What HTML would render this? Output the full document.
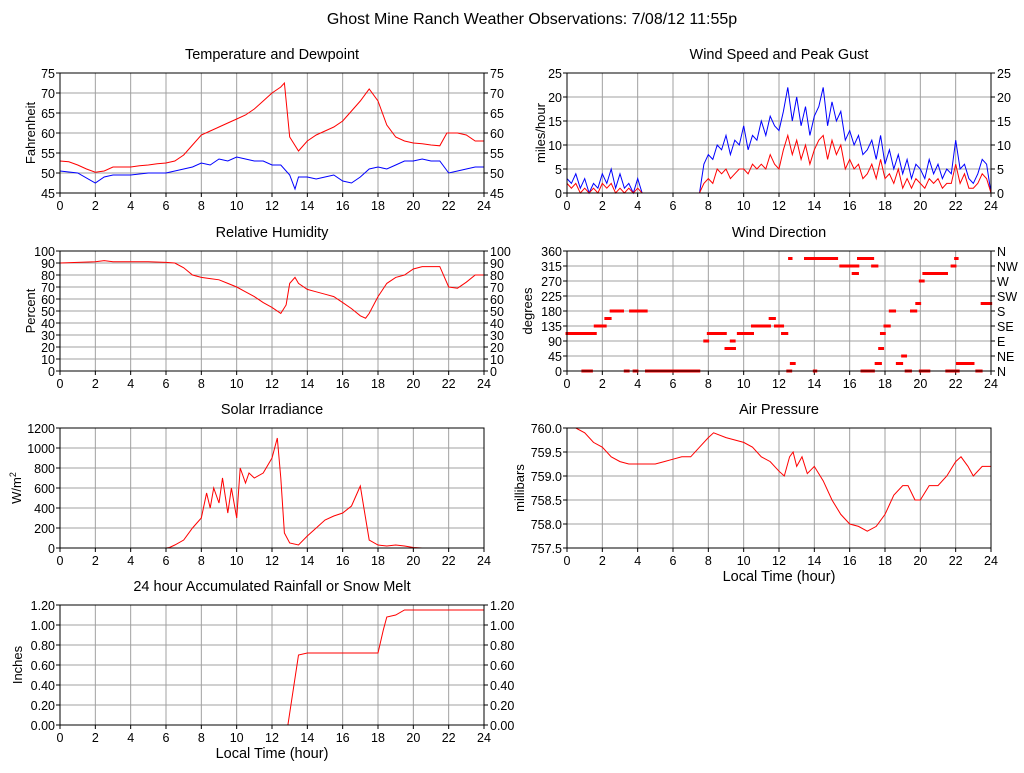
<!DOCTYPE html>
<html><head><meta charset="utf-8"><style>
body{margin:0;background:#fff;width:1024px;height:768px;overflow:hidden}
svg{font-family:"Liberation Sans",sans-serif}
</style></head><body>
<svg id="c" width="1024" height="768">
<text x="532" y="24" font-size="16" text-anchor="middle">Ghost Mine Ranch Weather Observations: 7/08/12 11:55p</text>
</svg>
<script>
const tempT=[0,0.5,1,1.5,2,2.5,3,3.5,4,4.5,5,5.5,6,6.5,7,7.5,8,8.5,9,9.5,10,10.5,11,11.5,12,12.5,12.7,13,13.5,14,14.5,15,15.5,16,16.5,17,17.5,18,18.5,19,19.5,20,20.5,21,21.5,21.9,22.5,23,23.5,24];
const tempV=[53,52.8,52,51,50.2,50.5,51.5,51.5,51.5,51.8,52,52.3,52.5,53,54.5,57,59.5,60.5,61.5,62.5,63.5,64.5,66,68,70,71.5,72.5,59,55.5,58,59.5,60.5,61.5,63,65.5,68,71,68,62,59,58,57.5,57.3,57,56.8,60,60,59.5,58,58];
const dewT=[0,1,2,2.5,3,4,5,6,7,7.5,8,8.5,9,9.5,10,10.5,11,11.5,12,12.5,13,13.3,13.5,14,14.5,15,15.5,16,16.5,17,17.5,18,18.5,19,19.5,20,20.5,21,21.5,22,22.5,23,23.5,24];
const dewV=[50.5,50,47.5,49,49.5,49.5,50,50,51,51.5,52.5,52,53.5,53,54,53.5,53,53,52,52,49.5,46,49,49,48.5,49,49.5,48,47.5,49,51,51.5,51,52,53,53,53.5,53,53,50,50.5,51,51.5,51.5];
const rhT=[0,2,2.5,3,4,5,6,6.5,7,7.5,8,8.5,9,9.5,10,10.5,11,11.5,12,12.5,12.8,13,13.3,13.5,14,14.5,15,15.5,16,16.5,17,17.3,17.5,18,18.5,19,19.5,20,20.5,21,21.5,22,22.5,23,23.5,24];
const rhV=[90,91,92,91,91,91,90.5,90,86,80,78,77,76,73,70,66,62,57,53,48,55,73,78,73,68,66,64,62,57,52,46,44,48,62,73,78,80,85,87,87,87,70,69,74,80,80];
const solT=[0,6,6.2,6.5,7,7.5,8,8.3,8.5,8.7,9,9.2,9.5,9.7,10,10.2,10.5,10.7,11,11.5,12,12.3,12.5,12.7,13,13.5,14,14.5,15,15.5,16,16.5,17,17.2,17.5,18,18.5,19,19.5,20,20.5,24];
const solV=[0,0,5,30,80,200,300,550,400,600,450,700,350,600,300,800,650,750,700,750,900,1100,700,150,50,30,120,200,280,320,350,420,620,400,80,30,20,30,20,5,0,0];
const presT=[0,0.5,1,1.5,2,2.5,3,3.5,4,5,5.5,6,6.5,7,7.5,8,8.3,9,10,10.5,11,11.5,12,12.3,12.6,12.8,13,13.3,13.6,14,14.5,15,15.5,16,16.5,17,17.5,18,18.5,19,19.3,19.7,20,20.5,21,21.5,22,22.3,22.7,23,23.5,24];
const presV=[760,760,759.9,759.7,759.6,759.4,759.3,759.25,759.25,759.25,759.3,759.35,759.4,759.4,759.6,759.8,759.9,759.8,759.7,759.6,759.4,759.3,759.1,759,759.4,759.5,759.2,759.4,759.05,759.2,758.9,758.5,758.2,758,757.95,757.85,757.95,758.2,758.6,758.8,758.8,758.5,758.5,758.8,758.8,759,759.3,759.4,759.2,759,759.2,759.2];
const rainT=[0,12.9,13.5,14,18,18.3,18.5,19,19.5,24];
const rainV=[0,0,0.7,0.72,0.72,0.95,1.08,1.1,1.15,1.15];
const gustV=[3,2,4,1,3,0,2,1,4,2,5,1,4,1,2,0,3,0,0,0,0,0,0,0,0,0,0,0,0,0,0,6,8,7,10,9,12,8,11,10,14,9,12,11,15,12,16,14,13,17,22,15,20,14,18,12,16,18,22,14,19,15,17,11,13,10,12,8,9,11,7,12,6,9,5,8,4,7,3,6,5,3,7,4,6,3,5,4,11,5,6,3,2,4,7,6,0];
const speedV=[2,1,2,0,1,0,1,0,2,1,2,0,1,0,1,0,1,0,0,0,0,0,0,0,0,0,0,0,0,0,0,2,3,2,5,4,5,3,4,5,5,4,6,5,6,5,8,6,5,9,12,8,11,7,10,6,9,11,12,7,11,8,10,5,7,5,6,3,4,6,3,7,3,4,2,5,1,3,1,3,2,1,3,2,3,1,2,2,6,2,4,1,1,2,4,3,0];
const dirSegStart=[0,0.9,1.6,2.2,2.5,3.3,3.6,3.8,4.5,7.8,8.0,9,9.3,9.7,10.5,11.5,11.8,12.2,12.5,12.7,12.6,13.5,14.7,14,15.5,16.2,16.5,17.3,16.7,17.5,17.7,17.8,18,18.3,18.7,19,19.2,19.5,19.8,20,20.2,20.0,21.5,21.8,22,21.9,22.1,23.2,23.5];
const dirSegEnd=[1.6,1.4,2.2,2.5,3.2,3.5,4.5,4,7.5,8.0,9,9.5,9.5,10.5,11.5,11.8,12.2,12.5,12.7,12.9,12.7,14.7,15.3,14.1,16.5,16.5,17.3,17.6,17.4,17.8,17.9,18.0,18.3,18.6,19.0,19.2,19.5,19.8,20,20.2,21.5,20.5,21.8,22,22.1,22.2,23,23.5,24];
const dirSegDeg=[112.5,0,135,157.5,180,0,180,0,0,90,112.5,67.5,90,112.5,135,157.5,135,112.5,0,22.5,337.5,337.5,337.5,0,315,292.5,337.5,315,0,22.5,67.5,112.5,135,180,22.5,45,0,180,202.5,270,292.5,0,0,315,337.5,0,22.5,0,202.5];
const hourTicks=[0,2,4,6,8,10,12,14,16,18,20,22,24];
const tempTicks=[45,50,55,60,65,70,75];
const windTicks=[0,5,10,15,20,25];
const rhTicks=[0,10,20,30,40,50,60,70,80,90,100];
const dirTicks=[0,45,90,135,180,225,270,315,360];
const dirNames=["N","NE","E","SE","S","SW","W","NW","N"];
const solTicks=[0,200,400,600,800,1000,1200];
const presTicks=[757.5,758,758.5,759,759.5,760];
const rainTicks=[0,0.2,0.4,0.6,0.8,1,1.2];

const svg=document.getElementById('c');
const NS='http://www.w3.org/2000/svg';
function el(tag,attrs,parent){const e=document.createElementNS(NS,tag);for(const k in attrs)e.setAttribute(k,attrs[k]);(parent||svg).appendChild(e);return e;}
function panel(o){
  const g=el('g',{});
  
  
  const W=424,H=120,ymin=o.ticks[0],ymax=o.ticks[o.ticks.length-1];
  const sx=t=>o.x+t/24*W, sy=v=>o.y+H-(v-ymin)/(ymax-ymin)*H;
  el('rect',{x:o.x,y:o.y,width:W,height:H,fill:'#fff'},g);
  hourTicks.forEach(t=>{
    el('line',{x1:sx(t),x2:sx(t),y1:o.y,y2:o.y+H,stroke:'#a0a0a0','stroke-width':1},g);
    el('line',{x1:sx(t),x2:sx(t),y1:o.y+H,y2:o.y+H+4,stroke:'#000'},g);
    const tx=el('text',{x:sx(t),y:o.y+H+17,'font-size':12.5,'text-anchor':'middle'},g);tx.textContent=t;
    
    
  });
  o.ticks.forEach((v,i)=>{
    el('line',{x1:o.x,x2:o.x+W,y1:sy(v),y2:sy(v),stroke:'#a0a0a0'},g);
    el('line',{x1:o.x-4,x2:o.x,y1:sy(v),y2:sy(v),stroke:'#000'},g);
    const tx=el('text',{x:o.x-5,y:sy(v)+5,'font-size':12.5,'text-anchor':'end'},g);tx.textContent=o.fmt(v);
    
    
    if(o.right){
      el('line',{x1:o.x+W,x2:o.x+W+4,y1:sy(v),y2:sy(v),stroke:'#000'},g);
      const r=el('text',{x:o.x+W+6,y:sy(v)+5,'font-size':12.5},g);r.textContent=o.right(v,i);
      
      
    }
  });
  o.series.forEach(s=>{
    let d='';
    s.t.forEach((t,i)=>{d+=(i?'L':'M')+sx(t).toFixed(1)+','+sy(s.v[i]).toFixed(1);});
    const p=el('path',{d:d,fill:'none',stroke:s.c,'stroke-width':1},g);
    
    
  });
  if(o.dots){
    o.dots.s.forEach((s,i)=>{
      for(let t=s;t<=o.dots.e[i]+1e-6;t+=0.08){
        const r=el('rect',{x:sx(t)-1.5,y:sy(o.dots.d[i])-1.5,width:3,height:3,fill:'#f00'},g);
        
        
      }
    });
  }
  el('rect',{x:o.x,y:o.y,width:W,height:H,fill:'none',stroke:'#000'},g);
  const ti=el('text',{x:o.x+W/2,y:o.y-14,'font-size':14.5,'text-anchor':'middle'},g);ti.textContent=o.title;
  
  
  const yl=el('text',{x:0,y:0,'font-size':13,'text-anchor':'middle',transform:`translate(${o.x-o.yoff},${o.y+H/2}) rotate(-90)`},g);yl.innerHTML=o.ylabel;
  
  
  if(o.xlabel){const xl=el('text',{x:o.x+W/2,y:o.y+H+33,'font-size':14.5,'text-anchor':'middle'},g);xl.textContent='Local Time (hour)';
    
    }
}
const q=[];for(let i=0;i<=96;i++)q.push(i/4);
const intf=v=>String(v);
panel({name:'temperature-panel',x:60,y:73,yoff:25,ticks:tempTicks,fmt:intf,right:v=>v,title:'Temperature and Dewpoint',ylabel:'Fahrenheit',series:[{t:tempT,v:tempV,c:'#f00',name:'temperature-line'},{t:dewT,v:dewV,c:'#00f',name:'dewpoint-line'}]});
panel({name:'wind-speed-panel',x:567,y:73,yoff:22,ticks:windTicks,fmt:intf,right:v=>v,title:'Wind Speed and Peak Gust',ylabel:'miles/hour',series:[{t:q,v:gustV,c:'#00f',name:'gust-line'},{t:q,v:speedV,c:'#f00',name:'speed-line'}]});
panel({name:'humidity-panel',x:60,y:251,yoff:25,ticks:rhTicks,fmt:intf,right:v=>v,title:'Relative Humidity',ylabel:'Percent',series:[{t:rhT,v:rhV,c:'#f00',name:'humidity-line'}]});
panel({name:'wind-direction-panel',x:567,y:251,yoff:35,ticks:dirTicks,fmt:intf,right:(v,i)=>dirNames[i],title:'Wind Direction',ylabel:'degrees',series:[],dots:{s:dirSegStart,e:dirSegEnd,d:dirSegDeg}});
panel({name:'solar-panel',x:60,y:428,yoff:39,ticks:solTicks,fmt:intf,title:'Solar Irradiance',ylabel:'W/m<tspan font-size="9" dy="-5">2</tspan>',series:[{t:solT,v:solV,c:'#f00',name:'solar-line'}]});
panel({name:'pressure-panel',x:567,y:428,yoff:43,ticks:presTicks,fmt:v=>v.toFixed(1),title:'Air Pressure',ylabel:'millibars',xlabel:true,series:[{t:presT,v:presV,c:'#f00',name:'pressure-line'}]});
panel({name:'rainfall-panel',x:60,y:605,yoff:38,ticks:rainTicks,fmt:v=>v.toFixed(2),right:v=>v.toFixed(2),title:'24 hour Accumulated Rainfall or Snow Melt',ylabel:'Inches',xlabel:true,series:[{t:rainT,v:rainV,c:'#f00',name:'rainfall-line'}]});
</script>
</body></html>
